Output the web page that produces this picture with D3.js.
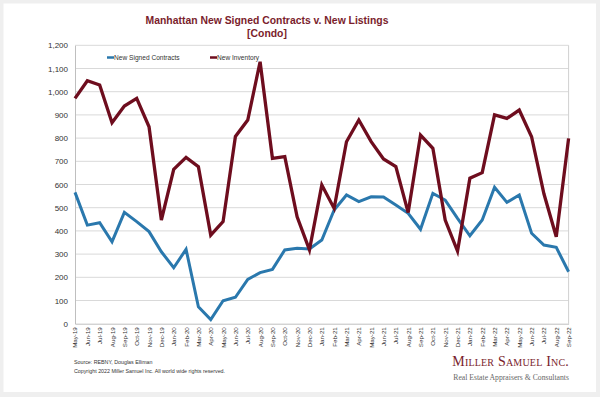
<!DOCTYPE html>
<html>
<head>
<meta charset="utf-8">
<script src="https://cdn.jsdelivr.net/npm/d3@7"></script>
<style>
  html, body { margin: 0; padding: 0; background: #efefef; }
  svg { display: block; }
</style>
</head>
<body>
<div id="chart"></div>
<script>
// months, May-19 .. Sep-22
var months = ["May-19","Jun-19","Jul-19","Aug-19","Sep-19","Oct-19","Nov-19","Dec-19",
  "Jan-20","Feb-20","Mar-20","Apr-20","May-20","Jun-20","Jul-20","Aug-20","Sep-20","Oct-20","Nov-20","Dec-20",
  "Jan-21","Feb-21","Mar-21","Apr-21","May-21","Jun-21","Jul-21","Aug-21","Sep-21","Oct-21","Nov-21","Dec-21",
  "Jan-22","Feb-22","Mar-22","Apr-22","May-22","Jun-22","Jul-22","Aug-22","Sep-22"];

var contracts = [566,425,435,353,480,440,397,310,241,321,73,18,99,114,191,220,234,318,325,322,
  361,490,555,526,547,546,512,476,407,562,533,454,379,447,588,523,555,390,339,329,224];

var inventory = [971,1047,1029,866,938,971,849,447,665,717,677,382,440,807,878,1129,713,720,461,318,
  598,497,784,878,785,710,677,479,813,756,447,313,627,651,900,885,921,806,560,375,799];

var yTicks = [0,100,200,300,400,500,600,700,800,900,1000,1100,1200];

var W = 600, H = 397;
// note: "top" is taken by window.top, so plot edges get their own names
var plotL = 75, plotR = 568.6, plotT = 45.3, plotB = 323.7;

var svg = d3.select("#chart").append("svg")
  .attr("width", W).attr("height", H)
  .style("font-family", "'Liberation Sans', Arial, sans-serif");

// white card
svg.append("rect")
  .attr("x", 3.5).attr("y", 3.5).attr("width", 592.5).attr("height", 388.5)
  .attr("fill", "#fff");

var x = d3.scalePoint().domain(months).range([plotL, plotR]).padding(0);
var y = d3.scaleLinear().domain([0, 1200]).range([plotB, plotT]);

// gridlines
svg.append("g").selectAll("line")
  .data(yTicks.slice(1))
  .enter().append("line")
  .attr("x1", plotL).attr("x2", plotR)
  .attr("y1", function(d) { return y(d); })
  .attr("y2", function(d) { return y(d); })
  .attr("stroke", "#d9d9d9").attr("stroke-width", 1);

// right border
svg.append("line")
  .attr("x1", plotR).attr("x2", plotR).attr("y1", plotT).attr("y2", plotB)
  .attr("stroke", "#d0d0d0");

// y axis
var yaxis = svg.append("g")
  .attr("transform", "translate(" + plotL + ",0)")
  .call(d3.axisLeft(y).tickValues(yTicks).tickSize(0).tickPadding(7)
    .tickFormat(d3.format(",")));
yaxis.select(".domain").attr("stroke", "#bfbfbf");
yaxis.selectAll("text").attr("font-size", 8).attr("fill", "#333")
  .style("font-family", "'Liberation Sans', Arial, sans-serif");

// x axis
var xaxis = svg.append("g")
  .attr("transform", "translate(0," + plotB + ")")
  .call(d3.axisBottom(x).tickSize(0).tickPadding(0));
xaxis.select(".domain").attr("stroke", "#bfbfbf");
xaxis.selectAll("text")
  .attr("font-size", 6.2).attr("fill", "#333")
  .style("font-family", "'Liberation Sans', Arial, sans-serif")
  .style("text-anchor", "end")
  .attr("dx", "-3.5")
  .attr("dy", "0.32em")
  .attr("y", 0)
  .attr("transform", "rotate(-90)");

// lines
var line = function(vals) {
  return d3.line()
    .x(function(d, i) { return x(months[i]); })
    .y(function(d) { return y(d); })(vals);
};

svg.append("path")
  .attr("d", line(contracts))
  .attr("fill", "none").attr("stroke", "#2a78ad").attr("stroke-width", 3)
  .attr("stroke-linejoin", "miter");

svg.append("path")
  .attr("d", line(inventory))
  .attr("fill", "none").attr("stroke", "#6e0d1e").attr("stroke-width", 3.3)
  .attr("stroke-linejoin", "miter");

// legend
var legend = [
  { name: "New Signed Contracts", color: "#2a78ad", x: 107 },
  { name: "New Inventory", color: "#6e0d1e", x: 210 }
];
var lg = svg.append("g").selectAll("g").data(legend).enter().append("g")
  .attr("transform", function(d) { return "translate(" + d.x + ",57.5)"; });
lg.append("line").attr("x1", 0).attr("x2", 7).attr("y1", 0).attr("y2", 0)
  .attr("stroke", function(d) { return d.color; }).attr("stroke-width", 2.5);
lg.append("text").attr("x", 7).attr("y", 2.3)
  .attr("font-size", 6.6).attr("fill", "#333")
  .text(function(d) { return d.name; });

// title
var title = svg.append("g").attr("fill", "#7a1d2c").attr("font-weight", "bold")
  .attr("font-size", 10.4).attr("text-anchor", "middle");
title.append("text").attr("x", 267).attr("y", 24).text("Manhattan New Signed Contracts v. New Listings");
title.append("text").attr("x", 267).attr("y", 37).text("[Condo]");

// footer
var foot = svg.append("g").attr("font-size", 5.3).attr("fill", "#333");
foot.append("text").attr("x", 74).attr("y", 364).text("Source: REBNY, Douglas Elliman");
foot.append("text").attr("x", 74).attr("y", 372.5).text("Copyright 2022 Miller Samuel Inc.  All world wide rights reserved.");

// logo
var logo = svg.append("g").style("font-family", "'Liberation Serif', 'DejaVu Serif', serif");
logo.append("text").attr("x", 569).attr("y", 366).attr("text-anchor", "end")
  .attr("font-size", 14).attr("fill", "#7a1d2c")
  .style("font-variant", "small-caps").style("letter-spacing", "0.2px")
  .text("Miller Samuel Inc.");
logo.append("text").attr("x", 569).attr("y", 380).attr("text-anchor", "end")
  .attr("font-size", 7.7).attr("fill", "#666")
  .text("Real Estate Appraisers & Consultants");
</script>
</body>
</html>
